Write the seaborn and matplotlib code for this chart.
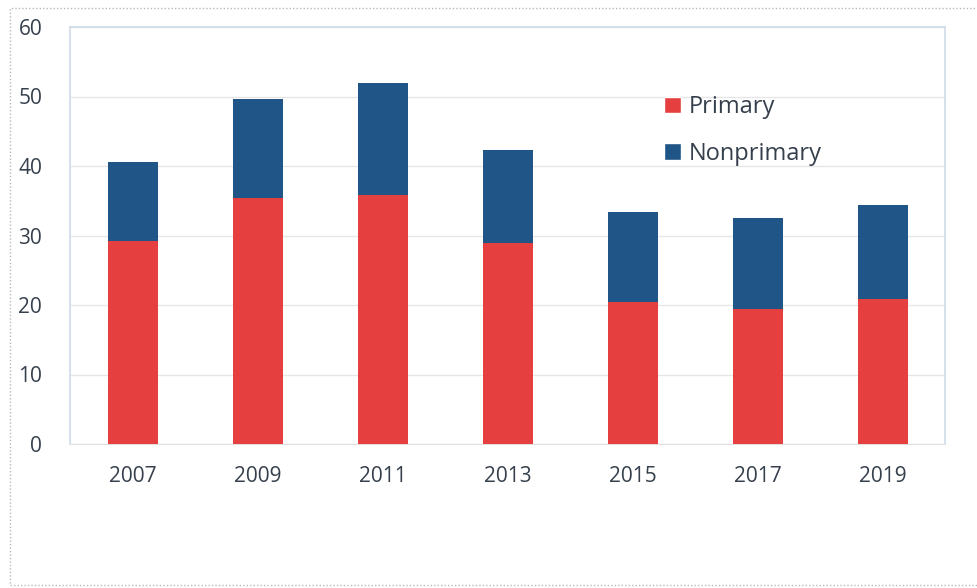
import numpy as np
import pandas as pd
import seaborn as sns
import matplotlib.pyplot as plt
from matplotlib.patches import Rectangle, Patch

# values
years = ["2007", "2009", "2011", "2013", "2015", "2017", "2019"]
primary = [29.2, 35.4, 35.8, 28.9, 20.4, 19.4, 20.9]
nonprimary = [11.4, 14.2, 16.1, 13.4, 13.0, 13.1, 13.5]

RED = "#E5403F"
BLUE = "#1F5587"
TEXT = "#36404C"

df = pd.DataFrame({"year": years, "Primary": primary, "Nonprimary": nonprimary})
df["total"] = df["Primary"] + df["Nonprimary"]

sns.set_style("white")
plt.rcParams["font.family"] = ["Open Sans", "DejaVu Sans"]

fig = plt.figure(figsize=(9.77, 5.88), dpi=100)
ax = fig.add_axes([70 / 977, (588 - 444) / 588, 875 / 977, 417 / 588])

# outer dotted chart frame
fig.patches.append(Rectangle((10 / 977, 3 / 588), 0.995, 577 / 588, transform=fig.transFigure,
                             fill=False, edgecolor="#b8b8b8", linewidth=1, linestyle=(0, (1, 1.5))))

# stacked bars: total first (blue top), primary over it
sns.barplot(data=df, x="year", y="total", color=BLUE, width=0.4, saturation=1,
            linewidth=0, ax=ax, zorder=2)
sns.barplot(data=df, x="year", y="Primary", color=RED, width=0.4, saturation=1,
            linewidth=0, ax=ax, zorder=3)

ax.set_xlim(-0.5, len(years) - 0.5)
ax.set_ylim(0, 60)
ax.set_yticks(range(0, 61, 10))
ax.yaxis.grid(True, color="#e6e6e6", linewidth=1)
ax.set_axisbelow(True)
ax.set_xlabel("")
ax.set_ylabel("")

for side in ["top", "right", "left"]:
    ax.spines[side].set_visible(True)
    ax.spines[side].set_color("#cfdbe8")
    ax.spines[side].set_linewidth(1.2)
ax.spines["bottom"].set_color("#e0e0e0")

ax.tick_params(axis="y", length=0, pad=20, labelsize=15, labelcolor=TEXT)
ax.tick_params(axis="x", length=0, pad=16, labelsize=15, labelcolor=TEXT)

handles = [Patch(facecolor=RED, label="Primary"), Patch(facecolor=BLUE, label="Nonprimary")]
leg = ax.legend(handles=handles, loc="center left", bbox_to_anchor=(0.679, 0.752), frameon=False,
                borderaxespad=0, borderpad=0, fontsize=17, handlelength=0.7, handleheight=0.7,
                handletextpad=0.35, labelspacing=0.95)
for t in leg.get_texts():
    t.set_color(TEXT)

fig.savefig("out.png", dpi=100)
